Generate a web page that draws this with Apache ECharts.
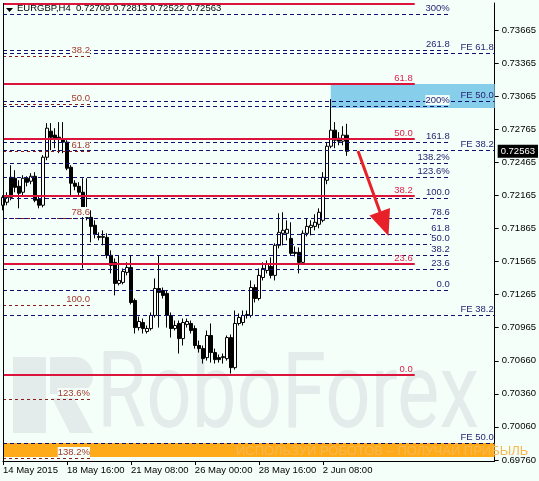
<!DOCTYPE html>
<html><head><meta charset="utf-8">
<script src="https://cdn.jsdelivr.net/npm/echarts@6/dist/echarts.min.js"></script>
<style>html,body{margin:0;padding:0;background:#f5fffa;}#c{width:539px;height:481px;}</style>
</head><body><div id="c"></div>
<script>
// ---------- data ----------
const symbol = 'EURGBP,H4';
const categoryCount = 124;               // H4 slots on the time axis (incl. chart shift)
const xTickIndex = [0, 16, 32, 48, 64, 80];
const xTickLabels = ['14 May 2015', '18 May 16:00', '21 May 08:00', '26 May 00:00', '28 May 16:00', '2 Jun 08:00'];
const yTicks = [0.73665, 0.73365, 0.73065, 0.72765, 0.72465, 0.72165, 0.71865, 0.71565, 0.71265, 0.70965, 0.70660, 0.70360, 0.70060, 0.69760];
const yMin = 0.6975, yMax = 0.7391;

// [open, close, low, high]
const candles = [
[0.72073,0.72145,0.72027,0.72164],[0.72100,0.72145,0.72073,0.72191],[0.72327,0.72145,0.72118,0.72437],[0.72318,0.72236,0.72191,0.72391],
[0.72245,0.72182,0.72045,0.72300],[0.72191,0.72318,0.72164,0.72346],[0.72318,0.72282,0.72245,0.72336],[0.72291,0.72336,0.72264,0.72364],
[0.72336,0.72118,0.72100,0.72373],[0.72127,0.72073,0.72045,0.72164],[0.72073,0.72509,0.72054,0.72528],[0.72509,0.72773,0.72482,0.72819],
[0.72746,0.72691,0.72573,0.72819],[0.72710,0.72682,0.72591,0.72773],[0.72691,0.72673,0.72546,0.72828],[0.72673,0.72646,0.72546,0.72828],
[0.72646,0.72409,0.72391,0.72664],[0.72418,0.72273,0.72164,0.72437],[0.72273,0.72245,0.72209,0.72300],[0.72245,0.72191,0.72154,0.72282],
[0.72191,0.71982,0.71499,0.72318],[0.72045,0.71963,0.71936,0.72318],[0.71963,0.71881,0.71736,0.72027],[0.71891,0.71809,0.71772,0.71936],
[0.71790,0.71781,0.71754,0.71827],[0.71781,0.71790,0.71709,0.71845],[0.71781,0.71618,0.71590,0.71818],[0.71618,0.71527,0.71454,0.71663],
[0.71554,0.71363,0.71254,0.71590],[0.71363,0.71390,0.71345,0.71618],[0.71372,0.71472,0.71354,0.71499],[0.71463,0.71508,0.71436,0.71554],
[0.71508,0.71190,0.71172,0.71618],[0.71208,0.70962,0.70908,0.71226],[0.70962,0.71017,0.70935,0.71062],[0.71008,0.70953,0.70908,0.71044],
[0.70926,0.70953,0.70908,0.70981],[0.70953,0.71072,0.70935,0.71099],[0.71072,0.71317,0.71053,0.71408],[0.71317,0.71281,0.70962,0.71618],
[0.71299,0.71254,0.71226,0.71326],[0.71272,0.71072,0.70962,0.71299],[0.71072,0.70953,0.70871,0.71099],[0.70953,0.70981,0.70935,0.71026],
[0.70999,0.70862,0.70726,0.71026],[0.70862,0.71008,0.70799,0.71044],[0.70990,0.71017,0.70962,0.71044],[0.70999,0.70935,0.70908,0.71026],
[0.70953,0.70799,0.70771,0.70981],[0.70799,0.70771,0.70735,0.70844],[0.70771,0.70680,0.70635,0.70799],[0.70689,0.70890,0.70662,0.70935],
[0.70890,0.70735,0.70644,0.70999],[0.70735,0.70671,0.70635,0.70771],[0.70689,0.70671,0.70644,0.70717],[0.70689,0.70698,0.70635,0.70726],
[0.70680,0.70871,0.70662,0.70890],[0.70871,0.70598,0.70544,0.70899],[0.70598,0.70999,0.70580,0.71117],[0.70999,0.71053,0.70981,0.71090],
[0.71008,0.71072,0.70981,0.71117],[0.71072,0.71081,0.71044,0.71117],[0.71072,0.71326,0.71053,0.71390],[0.71326,0.71226,0.71190,0.71354],
[0.71226,0.71436,0.71208,0.71499],[0.71417,0.71499,0.71390,0.71554],[0.71481,0.71536,0.71454,0.71572],[0.71517,0.71436,0.71408,0.71599],
[0.71436,0.71709,0.71390,0.71727],[0.71709,0.71827,0.71681,0.72000],[0.71818,0.71845,0.71709,0.72009],[0.71818,0.71854,0.71754,0.71936],
[0.71772,0.71636,0.71618,0.71918],[0.71645,0.71636,0.71608,0.71699],[0.71645,0.71554,0.71454,0.71690],[0.71554,0.71818,0.71536,0.71845],
[0.71818,0.71881,0.71790,0.71954],[0.71872,0.71891,0.71800,0.71936],[0.71881,0.71918,0.71845,0.71991],[0.71900,0.72009,0.71863,0.72045],
[0.71936,0.72327,0.71918,0.72373],[0.72300,0.72609,0.72264,0.72646],[0.72609,0.72755,0.72591,0.73037],[0.72755,0.72664,0.72591,0.72828],
[0.72682,0.72655,0.72618,0.72737],[0.72655,0.72710,0.72618,0.72791],[0.72709,0.72563,0.72522,0.72813]
];

// Fibonacci retracement (red, solid)
const redLevels = [0.73901, 0.73174, 0.72675, 0.72157, 0.71539, 0.70531];
const redLabels = ['', '61.8', '50.0', '38.2', '23.6', '0.0'];
// Fibonacci expansion (navy, dashed)
const expLevels = [0.73810, 0.73477, 0.72974, 0.72647, 0.72457, 0.72330, 0.72139, 0.71957, 0.71812, 0.71721, 0.71621, 0.71494, 0.71303];
const expLabels = ['300%', '261.8', '200%', '161.8', '138.2%', '123.6%', '100.0', '78.6', '61.8', '50.0', '38.2', '23.6', '0.0'];
// older retracement on the left (dark red, dashed)
const leftLevels = [0.73429, 0.72993, 0.72566, 0.71957, 0.71167, 0.70313, 0.69777];
const leftLabels = ['38.2', '50.0', '61.8', '78.6', '100.0', '123.6%', '138.2%'];
// FE levels (navy dashed, full width)
const feLevels = [0.73456, 0.73020, 0.72575, 0.71076, 0.69914];
const feLabels = ['FE 61.8', 'FE 50.0', 'FE 38.2', 'FE 38.2', 'FE 50.0'];
// target zones
const blueZone = [0.73174, 0.72956];
const orangeZone = [0.69914, 0.69786];
const blueZoneStart = 82;

// ---------- chart ----------
const FONT = 'Liberation Sans, Arial, sans-serif';
const FS = 9.5;
const WM = '#e3ecea';
const categories = Array.from({length: categoryCount}, (_, i) => String(i));
const last = candles[candles.length - 1];
const lastIdx = categoryCount - 1;

function levelLines(levels, labels, startIdx, endIdx) {
  return levels.map((v, i) => [
    {coord: [startIdx, v], label: {show: labels[i] !== '', formatter: labels[i]}},
    {coord: [endIdx, v]}
  ]);
}
function markLineSeries(name, data, lineStyle, labelStyle, z) {
  return {
    type: 'line', name, data: [], z, silent: true,
    markLine: {
      symbol: 'none', silent: true, animation: false,
      lineStyle, label: Object.assign({position: 'insideEndTop', fontSize: FS, fontFamily: FONT, padding: 0}, labelStyle),
      emphasis: {disabled: true},
      data
    }
  };
}

const chart = echarts.init(document.getElementById('c'), null, {renderer: 'canvas'});
const option = {
  backgroundColor: '#f5fffa',
  animation: false,
  title: {
    text: symbol + '  ' + [last[0], last[3], last[2], last[1]].map(v => v.toFixed(5)).join(' '),
    left: 17, top: 3, padding: 0,
    textStyle: {fontSize: FS, fontWeight: 'normal', color: '#000', fontFamily: FONT}
  },
  grid: {left: 3, right: 44, top: 3, bottom: 20, containLabel: false},
  xAxis: {
    type: 'category', data: categories, boundaryGap: false,
    axisLine: {lineStyle: {color: '#000', width: 1}},
    axisTick: {interval: (i) => xTickIndex.includes(i), length: 4, lineStyle: {color: '#000'}},
    axisLabel: {
      interval: (i) => xTickIndex.includes(i),
      formatter: (v, i) => { const k = xTickIndex.indexOf(Number(v)); return k >= 0 ? xTickLabels[k] : ''; },
      align: 'left', margin: 4, color: '#000', fontSize: FS, fontFamily: FONT
    },
    splitLine: {show: false}
  },
  yAxis: {
    type: 'value', position: 'right', min: yMin, max: yMax, scale: true,
    axisLine: {show: true, lineStyle: {color: '#000', width: 1}},
    axisTick: {show: true, customValues: yTicks, length: 4, lineStyle: {color: '#000'}},
    axisLabel: {customValues: yTicks, formatter: v => v.toFixed(5), margin: 7, color: '#000', fontSize: FS, fontFamily: FONT},
    splitLine: {show: false}
  },
  graphic: [
    // watermark logo + text
    {type: 'rect', z: 0, shape: {x: 13, y: 357, width: 33, height: 76}, style: {fill: WM}},
    {type: 'rect', z: 0, shape: {x: 50, y: 357, width: 43, height: 37, r: [0, 18, 18, 0]}, style: {fill: WM}},
    {type: 'polygon', z: 0, shape: {points: [[52, 398], [74, 398], [93, 433], [70, 433]]}, style: {fill: WM}},
    {type: 'text', z: 0, x: 97, y: 401, scaleX: 0.76, style: {text: 'RoboForex', font: '105px Roboto, sans-serif', fill: WM, textVerticalAlign: 'middle'}},
    {type: 'text', z: 5, x: 236, y: 451, style: {text: 'ИСПОЛЬЗУЙ РОБОТОВ – ПОЛУЧАЙ ПРИБЫЛЬ', font: '13px Liberation Sans, Arial, sans-serif', fill: '#f7b850', textVerticalAlign: 'middle'}},
    // left frame
    {type: 'line', z: 10, shape: {x1: 3.5, y1: 3, x2: 3.5, y2: 461}, style: {stroke: '#000', lineWidth: 1}},
    // title marker
    {type: 'polygon', z: 10, shape: {points: [[6, 8], [13, 8], [9.5, 12]]}, style: {fill: '#000'}},
    // red arrow
    {type: 'line', z: 20, shape: {x1: 358, y1: 151, x2: 380, y2: 212}, style: {stroke: '#e8202a', lineWidth: 3}},
    {type: 'polygon', z: 20, shape: {points: [[369.5, 215.5], [390, 208], [388.5, 236]]}, style: {fill: '#e8202a'}}
  ],
  series: [
    {
      type: 'line', name: 'zones', data: [], z: 1, silent: true,
      markArea: {
        silent: true,
        data: [
          [{coord: [blueZoneStart, blueZone[0]], itemStyle: {color: '#87ceeb'}}, {coord: [lastIdx, blueZone[1]]}],
          [{coord: [0, orangeZone[0]], itemStyle: {color: '#ffaa18'}}, {coord: [lastIdx, orangeZone[1]]}]
        ]
      }
    },
    {
      type: 'candlestick', name: symbol, data: candles, barWidth: 3, z: 3,
      itemStyle: {color: '#fff', color0: '#000', borderColor: '#000', borderColor0: '#000', borderColorDoji: '#000', borderWidth: 1}
    },
    {
      type: 'line', name: 'price', data: [], z: 6, silent: true,
      markLine: {
        symbol: 'none', silent: true,
        lineStyle: {color: 'rgba(0,0,0,0)', width: 0},
        label: {position: 'end', distance: 3, formatter: last[1].toFixed(5), color: '#fff', backgroundColor: '#000', padding: [2, 3, 1, 3], fontSize: FS, fontFamily: FONT},
        data: [[{coord: [0, last[1]]}, {coord: [lastIdx, last[1]]}]]
      }
    },
    markLineSeries('left', levelLines(leftLevels, leftLabels, 0, 22),
      {color: '#8b1c1c', type: [3, 3], width: 1}, {color: '#a33b2e', distance: [1, 1], backgroundColor: '#f5fffa'}, 4),
    markLineSeries('exp', levelLines(expLevels, expLabels, 0, 112),
      {color: '#101070', type: [4, 3], width: 1}, {color: '#262673', distance: [1, 1], backgroundColor: '#f5fffa'}, 4),
    markLineSeries('fe', levelLines(feLevels, feLabels, 0, lastIdx),
      {color: '#101070', type: [4, 3], width: 1}, {color: '#262673', distance: [1, 1]}, 4),
    markLineSeries('red', levelLines(redLevels, redLabels, 0, 103),
      {color: '#dc143c', type: 'solid', width: 2}, {color: '#e0204a', distance: [2, 1]}, 5)
  ]
};
chart.setOption(option);
</script></body></html>
